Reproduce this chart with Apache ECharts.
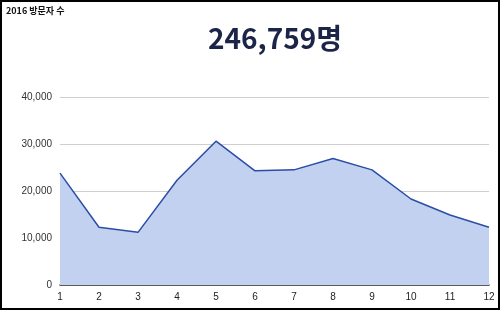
<!DOCTYPE html>
<html><head><meta charset="utf-8">
<script src="https://cdn.jsdelivr.net/npm/echarts@6/dist/echarts.min.js"></script>
<style>html,body{margin:0;padding:0;background:#fff}#c{width:500px;height:310px}</style>
</head><body><div id="c"></div>
<script>
const months = ['1','2','3','4','5','6','7','8','9','10','11','12'];
const visitors = [23800, 12300, 11200, 22300, 30600, 24300, 24500, 26900, 24500, 18300, 14900, 12300];
const chartTitle = '2016 방문자 수';
const totalLabel = '246,759명';

const chart = echarts.init(document.getElementById('c'), null, {renderer:'canvas'});
chart.setOption({
  animation:false,
  backgroundColor:'#fff',
  title:[
    {text:chartTitle, left:6, top:6, padding:0, textStyle:{fontFamily:'"Noto Sans CJK KR","Noto Sans",sans-serif', fontSize:9, fontWeight:'bold', color:'#111'}},
    {text:totalLabel, left:208, top:24, padding:0, textStyle:{fontFamily:'"Noto Sans CJK KR","Noto Sans",sans-serif', fontSize:28, fontWeight:'bold', color:'#1c2548'}}
  ],
  graphic:[{type:'rect', shape:{x:1,y:1,width:498,height:308}, style:{fill:'none', stroke:'#000', lineWidth:2}, z:100}],
  grid:{left:60, right:11, top:97, bottom:25},
  xAxis:{type:'category', data:months, boundaryGap:false,
    axisLine:{lineStyle:{color:'#333', width:1.5}}, axisTick:{show:false},
    axisLabel:{color:'#222', fontFamily:'Arial, "Liberation Sans", sans-serif', fontSize:10, margin:7}},
  yAxis:{type:'value', min:0, max:40000, interval:10000,
    axisLine:{show:false}, axisTick:{show:false},
    splitLine:{lineStyle:{color:'#cfcfcf', width:1}},
    axisLabel:{color:'#333', fontFamily:'Arial, "Liberation Sans", sans-serif', fontSize:10, margin:8,
      formatter:v=>v.toLocaleString('en-US')}},
  series:[{type:'line', data:visitors, symbol:'none',
    lineStyle:{color:'#2a4ea6', width:1.5},
    areaStyle:{color:'#c3d1f0', opacity:1}}]
});
</script></body></html>
